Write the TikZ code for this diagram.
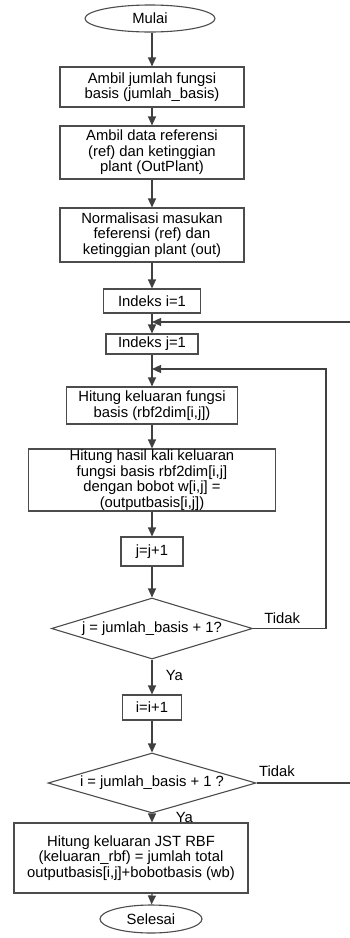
\documentclass[tikz,border=0pt]{standalone}
\usepackage{fontspec}
\setmainfont{Liberation Sans}
\usetikzlibrary{arrows.meta, shapes.geometric}

\tikzset{
	proses/.style = {draw = black!70, line width = 1.1pt, fill = white, inner sep = 0pt, align = center, font = \fontsize{14.8}{15.5}\selectfont},
	terminal/.style = {proses, ellipse},
	keputusan/.style = {proses, diamond, aspect = 3.3},
	alur/.style = {draw = black!75, line width = 1.1pt, -{Triangle[length = 9pt, width = 8pt]}},
	garis/.style = {draw = black!75, line width = 1.1pt},
	label/.style = {font = \fontsize{14.8}{15.5}\selectfont}
}

\begin{document}
\begin{tikzpicture}[x = 1pt, y = -1pt]
	\def\xc{152};
	\def\xr{326};
	\def\xo{358};
	\def\yi{322};
	\def\yj{369};

	\clip (0,0) rectangle (350,938);
	\fill [white] (0,0) rectangle (350,938);

	\begin{scope}
		\node [terminal, minimum width = 130pt, minimum height = 27pt] (mulai) at (150,18.5) {Mulai};
		\node [proses, minimum width = 184pt, minimum height = 40pt] (basis) at (\xc,87) {Ambil jumlah fungsi\\basis (jumlah\_basis)};
		\node [proses, minimum width = 184pt, minimum height = 53pt] (data) at (\xc,152.5) {Ambil data referensi\\(ref) dan ketinggian\\plant (OutPlant)};
		\node [proses, minimum width = 184pt, minimum height = 54pt] (norm) at (\xc,235) {Normalisasi masukan\\feferensi (ref) dan\\ketinggian plant (out)};
		\node [proses, minimum width = 97pt, minimum height = 24pt] (indeksi) at (\xc,301) {Indeks i=1};
		\node [proses, minimum width = 92pt, minimum height = 20pt] (indeksj) at (\xc,344) {Indeks j=1};
	\end{scope}

	\begin{scope}
		\node [proses, minimum width = 171pt, minimum height = 37pt] (rbf) at (\xc,405.5) {Hitung keluaran fungsi\\basis (rbf2dim[i,j])};
		\node [proses, minimum width = 247pt, minimum height = 62pt] (kali) at (\xc,480) {Hitung hasil kali keluaran\\fungsi basis rbf2dim[i,j]\\dengan bobot w[i,j] =\\(outputbasis[i,j])};
		\node [proses, minimum width = 62pt, minimum height = 29pt] (tambahj) at (\xc,551.5) {j=j+1};
		\node [keputusan, minimum width = 201pt, minimum height = 61pt] (cekj) at (\xc,628.5) {j = jumlah\_basis + 1?};
		\node [proses, minimum width = 59pt, minimum height = 25pt] (tambahi) at (\xc,707.5) {i=i+1};
		\node [keputusan, minimum width = 208pt, minimum height = 60pt] (ceki) at (\xc,783) {i = jumlah\_basis + 1 ?};
		\node [proses, minimum width = 234pt, minimum height = 70pt] (keluaran) at (131,858) {Hitung keluaran JST RBF\\(keluaran\_rbf) = jumlah total\\outputbasis[i,j]+bobotbasis (wb)};
		\node [terminal, minimum width = 102pt, minimum height = 28pt] (selesai) at (151,919) {Selesai};
	\end{scope}

	\begin{scope}
		\coordinate (gabungi) at (\xc,\yi);
		\coordinate (gabungj) at (\xc,\yj);
		\draw [alur] (mulai.south -| gabungi) -- (basis);
		\draw [alur] (basis) -- (data);
		\draw [alur] (data) -- (norm);
		\draw [alur] (norm) -- (indeksi);
		\draw [alur] (indeksi) -- (indeksj);
		\draw [alur] (indeksj) -- (rbf);
		\draw [alur] (rbf) -- (kali);
		\draw [alur] (kali) -- (tambahj);
		\draw [alur] (tambahj) -- (cekj);
		\draw [alur] (cekj) -- node [label, right, pos = 0.45, xshift = 10pt] {Ya} (tambahi);
		\draw [alur] (tambahi) -- (ceki);
		\draw [alur] (ceki.south) -- node [label, right, pos = 0.45, xshift = 20pt] {Ya} (ceki.south |- keluaran.north);
		\draw [alur] (keluaran.south -| ceki.south) -- (selesai);
	\end{scope}

	\begin{scope}
		\draw [alur] (cekj.east) -- (\xr,628.5) node [label, above, pos = 0.4, yshift = 1pt] {Tidak} -- (\xr,\yj) -- (gabungj);
		\draw [alur] (ceki.east) -- (\xo,783) node [label, above, pos = 0.2, yshift = 2pt] {Tidak} -- (\xo,\yi) -- (gabungi);
	\end{scope}
\end{tikzpicture}
\end{document}
